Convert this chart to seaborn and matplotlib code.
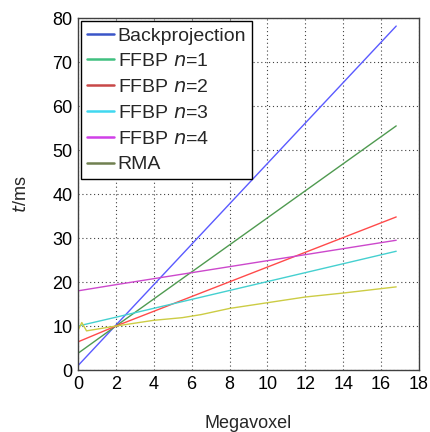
import matplotlib
matplotlib.use("Agg")
import matplotlib.pyplot as plt
from matplotlib.lines import Line2D
import seaborn as sns
import pandas as pd

sns.set_theme(style="white")
plt.rcParams['font.family'] = ['Liberation Sans', 'DejaVu Sans']

# Data (Megavoxel vs time in ms)
x_lin = [0, 2, 16.8]
backprojection = [1.0, 10.2, 78.2]
ffbp1 = [3.8, 10.0, 55.5]
ffbp2 = [6.4, 10.0, 34.8]
ffbp3 = [10.0, 12.0, 27.0]
ffbp4 = [18.0, 19.4, 29.5]
x_rma = [0, 0.2, 0.45, 2, 4, 5.5, 6.5, 8, 10, 12, 14, 16.8]
rma = [9.0, 10.8, 8.9, 10.0, 11.3, 11.9, 12.6, 14.0, 15.3, 16.6, 17.5, 18.9]

labels = ["Backprojection", "FFBP $n$=1", "FFBP $n$=2", "FFBP $n$=3", "FFBP $n$=4", "RMA"]
line_colors = ["#5a5aff", "#4f9a50", "#ff4a4a", "#45d0d0", "#cc48cc", "#cccc44"]
legend_colors = ["#3a55c8", "#40c080", "#c84848", "#40d8f0", "#d040e8", "#708050"]

series = [backprojection, ffbp1, ffbp2, ffbp3, ffbp4]
frames = []
for lab, ys in zip(labels[:5], series):
    frames.append(pd.DataFrame({"x": x_lin, "y": ys, "s": lab}))
frames.append(pd.DataFrame({"x": x_rma, "y": rma, "s": labels[5]}))
df = pd.concat(frames, ignore_index=True)

fig = plt.figure(figsize=(4.31, 4.32), dpi=100)
ax = fig.add_axes([0.181, 0.1435, 0.791, 0.8145])

sns.lineplot(data=df, x="x", y="y", hue="s", palette=dict(zip(labels, line_colors)),
             linewidth=1.0, legend=False, ax=ax, sort=False)

ax.set_xlim(0, 18)
ax.set_ylim(0, 80)
ax.set_xticks(range(0, 19, 2))
ax.set_yticks(range(0, 81, 10))
ax.grid(True, color="black", linestyle=(0, (1, 2.5)), linewidth=0.8, alpha=0.75)
ax.tick_params(axis="both", direction="in", length=4, labelsize=13, colors="black",
               width=0.6, pad=4)
for sp in ax.spines.values():
    sp.set_color("#404040")
    sp.set_linewidth(1.0)

ax.set_xlabel("Megavoxel", fontsize=13, labelpad=16)
ax.set_ylabel("$t$/ms", fontsize=13, labelpad=16)

handles = [Line2D([0], [0], color=c, linewidth=1.8) for c in legend_colors]
leg = ax.legend(handles, labels, loc="upper left", fontsize=14, frameon=True,
                fancybox=False, edgecolor="black", framealpha=1,
                handlelength=1.4, handletextpad=0.2, borderpad=0.3,
                labelspacing=0.42, borderaxespad=0.15)
leg.get_frame().set_linewidth(1.0)

fig.savefig("out.png", dpi=100)
